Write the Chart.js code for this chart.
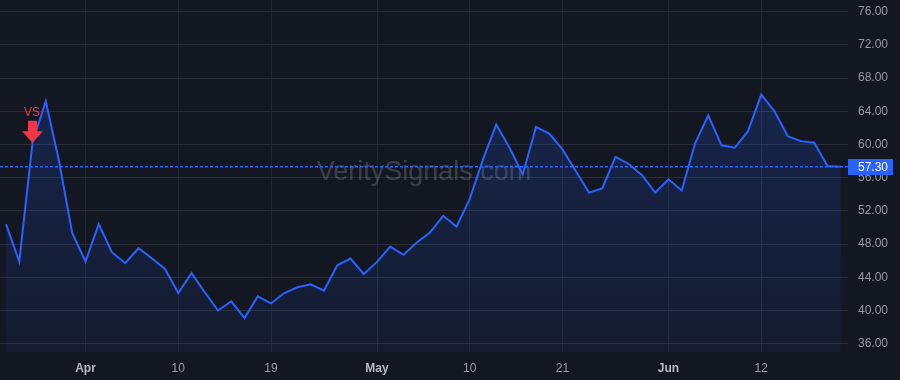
<!DOCTYPE html>
<html>
<head>
<meta charset="utf-8">
<script src="https://cdn.jsdelivr.net/npm/chart.js@4.4.1/dist/chart.umd.min.js"></script>
<style>
  html, body { margin: 0; padding: 0; background: #131722; }
  #wrap { width: 900px; height: 380px; position: relative; }
</style>
</head>
<body>
<div id="wrap"><canvas id="price_chart"></canvas></div>
<script>
// trading days shown on the chart
var dates = [
  '2024-03-21','2024-03-22','2024-03-25','2024-03-26','2024-03-27','2024-03-28',
  '2024-04-01','2024-04-02','2024-04-03','2024-04-04','2024-04-05','2024-04-08',
  '2024-04-09','2024-04-10','2024-04-11','2024-04-12','2024-04-15','2024-04-16',
  '2024-04-17','2024-04-18','2024-04-19','2024-04-22','2024-04-23','2024-04-24',
  '2024-04-25','2024-04-26','2024-04-29','2024-04-30','2024-05-01','2024-05-02',
  '2024-05-03','2024-05-06','2024-05-07','2024-05-08','2024-05-09','2024-05-10',
  '2024-05-13','2024-05-14','2024-05-15','2024-05-16','2024-05-17','2024-05-20',
  '2024-05-21','2024-05-22','2024-05-23','2024-05-24','2024-05-28','2024-05-29',
  '2024-05-30','2024-05-31','2024-06-03','2024-06-04','2024-06-05','2024-06-06',
  '2024-06-07','2024-06-10','2024-06-11','2024-06-12','2024-06-13','2024-06-14',
  '2024-06-17','2024-06-18','2024-06-20','2024-06-21'
];

var closes = [
  50.4, 45.9, 60.2, 65.2, 58.0, 49.3, 45.9, 50.4, 47.0, 45.7, 47.5, 46.3,
  45.0, 42.1, 44.5, 42.2, 40.0, 41.1, 39.1, 41.7, 40.85, 42.1, 42.8, 43.15,
  42.4, 45.45, 46.25, 44.4, 45.85, 47.7, 46.7, 48.2, 49.4, 51.4, 50.1, 53.45,
  58.2, 62.4, 59.6, 56.4, 62.1, 61.3, 59.4, 56.8, 54.2, 54.7, 58.5, 57.65,
  56.3, 54.2, 55.8, 54.45, 60.1, 63.5, 59.9, 59.6, 61.6, 66.0, 64.0, 61.0,
  60.4, 60.2, 57.4, 57.3
];

var tickDates = ['2024-04-01','2024-04-10','2024-04-19','2024-05-01','2024-05-10','2024-05-21','2024-06-03','2024-06-12'];
var tickLabels = ['Apr','10','19','May','10','21','Jun','12'];
var monthTicks = ['Apr','May','Jun'];

var priceTicks = [36, 40, 44, 48, 52, 56, 60, 64, 68, 72, 76];

var signalDate = '2024-03-25';
var signalText = 'VS';
var lastPrice = 57.30;
var watermark = 'VeritySignals.com';

var FONT = '"Liberation Sans", Arial, sans-serif';

function isMonth(ctx) {
    var lbl = ctx && ctx.tick ? ctx.tick.label : tickLabels[ctx ? ctx.index : -1];
    return monthTicks.indexOf(lbl) >= 0;
}

// no extra room for half labels at the ends of the axes
function noPad(axis) {
    axis.paddingTop = 0;
    axis.paddingBottom = 0;
    axis.paddingLeft = 0;
    axis.paddingRight = 0;
}

var chartDecor = {
    id: 'chartDecor',
    beforeDraw: function(chart) {
        var c = chart.ctx;
        c.save();
        c.fillStyle = '#131722';
        c.fillRect(0, 0, chart.width, chart.height);
        c.restore();
    },
    beforeDatasetsDraw: function(chart) {
        var c = chart.ctx;
        c.save();
        c.font = '27px ' + FONT;
        c.fillStyle = 'rgba(255,255,255,0.17)';
        c.textAlign = 'center';
        c.textBaseline = 'middle';
        c.fillText(watermark, 424, 173);
        c.restore();
    },
    afterDatasetsDraw: function(chart) {
        var c = chart.ctx, a = chart.chartArea;
        var xs = chart.scales.x, ys = chart.scales.y;
        var py = ys.getPixelForValue(lastPrice);

        // last price dotted line
        c.save();
        c.strokeStyle = '#2962ff';
        c.lineWidth = 1.5;
        c.setLineDash([3, 2]);
        c.beginPath();
        c.moveTo(a.left, py);
        c.lineTo(a.right, py);
        c.stroke();
        c.setLineDash([]);

        // last price label
        c.fillStyle = '#2962ff';
        c.fillRect(a.right, Math.round(py) - 8, 45, 16);
        c.fillStyle = '#ffffff';
        c.font = '12px ' + FONT;
        c.textAlign = 'left';
        c.textBaseline = 'middle';
        c.fillText(lastPrice.toFixed(2), a.right + 10, Math.round(py) + 1);

        // signal marker
        var i = dates.indexOf(signalDate);
        var sx = xs.getPixelForValue(i);
        var sy = ys.getPixelForValue(closes[i]);
        c.fillStyle = '#f23645';
        c.beginPath();
        c.moveTo(sx - 4.5, sy - 22);
        c.lineTo(sx + 4.5, sy - 22);
        c.lineTo(sx + 4.5, sy - 11.5);
        c.lineTo(sx + 10.5, sy - 11.5);
        c.lineTo(sx, sy);
        c.lineTo(sx - 10.5, sy - 11.5);
        c.lineTo(sx - 4.5, sy - 11.5);
        c.closePath();
        c.fill();
        c.font = '12px ' + FONT;
        c.textAlign = 'center';
        c.textBaseline = 'middle';
        c.fillText(signalText, sx - 0.5, sy - 30.5);
        c.restore();
    }
};

var config = {
    type: 'line',
    data: {
        datasets: [{
            data: closes.map(function(v, i) { return { x: i, y: v }; }),
            borderColor: '#2962ff',
            borderWidth: 2,
            pointRadius: 0,
            tension: 0,
            fill: 'start',
            backgroundColor: function(ctx) {
                var a = ctx.chart.chartArea;
                if (!a) return 'rgba(41,98,255,0.15)';
                var g = ctx.chart.ctx.createLinearGradient(0, a.top, 0, a.bottom);
                g.addColorStop(0, 'rgba(41,98,255,0.24)');
                g.addColorStop(1, 'rgba(41,98,255,0.06)');
                return g;
            }
        }]
    },
    options: {
        responsive: true,
        maintainAspectRatio: false,
        animation: false,
        layout: { padding: 0 },
        plugins: {
            legend: { display: false },
            tooltip: { enabled: false },
            title: { display: false }
        },
        scales: {
            x: {
                type: 'linear',
                min: -0.453,
                max: 63.547,
                afterBuildTicks: function(axis) {
                    axis.ticks = tickDates.map(function(d) { return { value: dates.indexOf(d) }; });
                },
                afterFit: function(axis) { axis.height = 28; noPad(axis); },
                grid: { color: '#232733', drawTicks: false },
                border: { display: false },
                ticks: {
                    padding: 9,
                    maxRotation: 0,
                    autoSkip: false,
                    callback: function(v) {
                        var k = tickDates.indexOf(dates[v]);
                        return k < 0 ? '' : tickLabels[k];
                    },
                    color: function(ctx) {
                        return isMonth(ctx) ? '#b8bbc3' : '#9a9da6';
                    },
                    font: function(ctx) {
                        return { family: FONT, size: 12, weight: isMonth(ctx) ? 'bold' : 'normal' };
                    }
                }
            },
            y: {
                position: 'right',
                min: 35,
                max: 77.4,
                afterBuildTicks: function(axis) {
                    axis.ticks = priceTicks.map(function(v) { return { value: v }; });
                },
                afterFit: function(axis) { axis.width = 52; noPad(axis); },
                grid: { color: '#2a2e39', drawTicks: false },
                border: { display: false },
                ticks: {
                    padding: 10,
                    color: '#9598a1',
                    font: { family: FONT, size: 12 },
                    callback: function(v) { return v.toFixed(2); }
                }
            }
        }
    },
    plugins: [chartDecor]
};

window.onload = function() {
    var ctx = document.getElementById('price_chart').getContext('2d');
    window.priceChart = new Chart(ctx, config);
};
</script>
</body>
</html>
